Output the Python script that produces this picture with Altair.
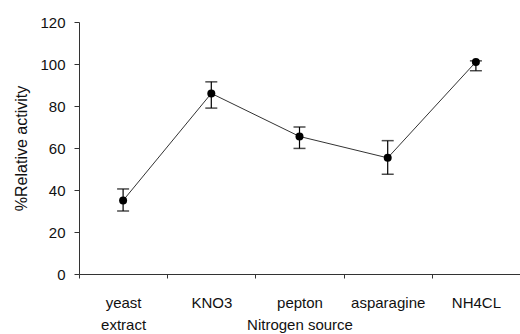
import altair as alt
import pandas as pd

categories = ["yeast extract", "KNO3", "pepton", "asparagine", "NH4CL"]
means = [35.0, 86.0, 65.5, 55.3, 101.0]
err_low = [30.0, 79.0, 59.8, 47.5, 96.8]
err_high = [40.5, 91.5, 70.0, 63.5, 101.5]

df = pd.DataFrame({"source": categories, "mean": means, "lo": err_low, "hi": err_high})

FONT = "Liberation Sans"
AX = "#333333"

x = alt.X("source:N", sort=categories, title="Nitrogen source",
          scale=alt.Scale(paddingInner=0, paddingOuter=0),
          axis=alt.Axis(labelAngle=0, tickBand="extent", tickSize=4, tickColor=AX,
                        domainColor=AX, labelFont=FONT, labelFontSize=15, labelColor="#111",
                        labelExpr="split(datum.label, ' ')", labelLineHeight=22,
                        labelBaseline="alphabetic", labelPadding=29,
                        titleFont=FONT, titleFontSize=15, titleFontWeight="normal",
                        titleColor="#111", titleY=55, titleBaseline="alphabetic"))
y = alt.Y("mean:Q", title="%Relative activity",
          scale=alt.Scale(domain=[0, 120], nice=False),
          axis=alt.Axis(values=[0, 20, 40, 60, 80, 100, 120], grid=False, tickSize=5,
                        tickColor=AX, domainColor=AX, labelFont=FONT, labelFontSize=15,
                        labelColor="#111", labelPadding=9,
                        titleFont=FONT, titleFontSize=16, titleFontWeight="normal",
                        titleColor="#111", titlePadding=10))

base = alt.Chart(df)
line = base.mark_line(color="#333333", strokeWidth=1).encode(x=x, y=y)
rule = base.mark_rule(color="black", strokeWidth=1.2).encode(x=x, y="lo:Q", y2="hi:Q")
cap_lo = base.mark_tick(color="black", thickness=1.5, size=12, orient="horizontal").encode(x=x, y="lo:Q")
cap_hi = base.mark_tick(color="black", thickness=1.5, size=12, orient="horizontal").encode(x=x, y="hi:Q")
pts = base.mark_circle(color="black", opacity=1, size=64).encode(x=x, y=y)

chart = alt.layer(line, rule, cap_lo, cap_hi, pts).properties(
    width=441, height=252,
    autosize=alt.AutoSizeParams(type="none"),
    padding={"left": 79, "top": 22, "right": 0, "bottom": 60},
    background="white",
).configure_view(stroke=None)

chart.save("out.html", embed_options={"renderer": "svg", "actions": False})
